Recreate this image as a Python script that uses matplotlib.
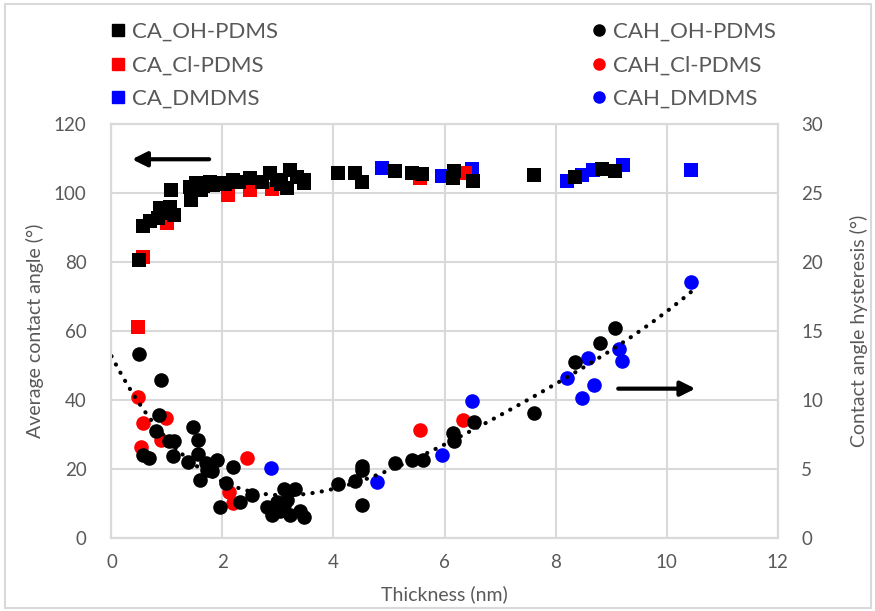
import matplotlib
matplotlib.use("Agg")
import matplotlib.pyplot as plt
from matplotlib.lines import Line2D
from matplotlib.patches import Rectangle
import numpy as np

plt.rcParams['font.family'] = ['Lato', 'DejaVu Sans']

# contact angle (left axis), x = thickness in nm
ca_oh_x = [0.49, 0.57, 0.69, 0.84, 0.87, 1.02, 1.05, 1.07, 1.12, 1.41, 1.44, 1.53, 1.62,
           1.65, 1.77, 1.83, 1.95, 2.05, 2.19, 2.30, 2.50, 2.71, 2.86, 2.98, 3.05, 3.16,
           3.22, 3.34, 3.46, 3.47, 4.09, 4.39, 4.51, 5.10, 5.41, 5.59, 6.17, 6.16, 6.52,
           7.62, 8.35, 8.83, 9.07]
ca_oh_y = [80.4, 90.4, 91.8, 92.6, 95.5, 94.0, 96.0, 100.8, 93.5, 101.7, 97.9, 102.7, 100.8,
           102.0, 103.2, 102.2, 102.7, 102.5, 103.7, 103.2, 104.2, 103.2, 105.6, 103.7, 102.5, 101.3,
           106.6, 104.6, 102.7, 103.6, 105.8, 105.8, 103.2, 106.3, 105.8, 105.4, 106.3, 104.2, 103.5,
           105.1, 104.6, 106.8, 106.3]
ca_cl_x = [0.47, 0.57, 1.00, 2.10, 2.50, 2.89, 5.56, 6.37]
ca_cl_y = [61.2, 81.4, 91.2, 99.2, 100.8, 101.2, 104.2, 105.8]
ca_dm_x = [4.87, 5.95, 6.49, 8.20, 8.47, 8.68, 9.21, 10.45]
ca_dm_y = [107.1, 104.8, 106.8, 103.5, 105.1, 106.6, 108.0, 106.6]

# contact angle hysteresis (right axis)
cah_oh_x = [0.50, 0.90, 0.86, 0.80, 1.04, 1.13, 0.57, 0.68, 1.10, 1.46, 1.55, 1.55, 1.38,
            1.70, 1.91, 1.59, 1.72, 1.82, 2.19, 2.07, 1.95, 2.32, 2.53, 2.80, 2.89, 3.04,
            3.16, 3.22, 3.40, 3.46, 3.10, 2.98, 3.10, 3.30, 4.09, 4.39, 4.52, 4.52, 4.51,
            5.10, 5.41, 5.61, 6.18, 6.16, 6.54, 7.61, 8.35, 8.81, 9.08]
cah_oh_y = [13.3, 11.4, 8.9, 7.7, 7.0, 7.0, 6.0, 5.75, 5.9, 8.0, 7.1, 6.1, 5.5,
            5.4, 5.6, 4.2, 4.9, 4.8, 5.1, 3.94, 2.25, 2.6, 3.1, 2.25, 1.65, 1.9,
            2.7, 1.65, 1.9, 1.5, 2.37, 2.6, 3.5, 3.5, 3.9, 4.1, 5.2, 4.9, 2.4,
            5.4, 5.6, 5.6, 7.0, 7.6, 8.4, 9.0, 12.7, 14.1, 15.2]
cah_cl_x = [0.47, 0.57, 0.98, 0.53, 0.89, 2.45, 2.12, 2.19, 3.00, 5.55, 6.33]
cah_cl_y = [10.2, 8.3, 8.7, 6.6, 7.1, 5.8, 3.33, 2.5, 2.3, 7.8, 8.5]
cah_dm_x = [2.87, 4.78, 5.95, 6.49, 8.21, 8.59, 9.15, 9.20, 8.70, 8.47, 10.45]
cah_dm_y = [5.07, 4.0, 6.0, 9.9, 11.6, 13.0, 13.7, 12.8, 11.1, 10.1, 18.5]

gray = '#595959'
grid = '#d9d9d9'

fig = plt.figure(figsize=(8.75, 6.11), dpi=100)
ax = fig.add_axes([0.1274, 0.120, 0.7612, 0.6775])
ax2 = ax.twinx()

ax.set_xlim(0, 12)
ax.set_ylim(0, 120)
ax2.set_ylim(0, 30)
ax.set_xticks(np.arange(0, 13, 2))
ax.set_yticks(np.arange(0, 121, 20))
ax2.set_yticks(np.arange(0, 31, 5))
ax.grid(True, color=grid, lw=1.5)
ax.set_axisbelow(True)
for a in (ax, ax2):
    for s in a.spines.values():
        s.set_color(grid)
        s.set_linewidth(1.5)
    a.tick_params(length=0, labelsize=13.5, labelcolor=gray)
ax.tick_params(axis='y', pad=18)
ax.tick_params(axis='x', pad=12)
ax2.tick_params(axis='y', pad=17)

sq = dict(marker='s', ms=9.5, ls='none', mew=0)
ci = dict(marker='o', ms=10.5, ls='none', mew=0)
ax.plot(ca_dm_x, ca_dm_y, color='#0000ff', **sq)
ax.plot(ca_cl_x, ca_cl_y, color='#ff0000', **sq)
ax.plot(ca_oh_x, ca_oh_y, color='black', **sq)
ax2.plot(cah_dm_x, cah_dm_y, color='#0000ff', **ci)
ax2.plot(cah_cl_x, cah_cl_y, color='#ff0000', **ci)
ax2.plot(cah_oh_x, cah_oh_y, color='black', **ci)

# polynomial trendline through all hysteresis points
all_x = np.array(cah_oh_x + cah_cl_x + cah_dm_x)
all_y = np.array(cah_oh_y + cah_cl_y + cah_dm_y)
coef = np.polyfit(all_x, all_y, 4)
xs = np.linspace(0, max(all_x), 200)
ax2.plot(xs, np.polyval(coef, xs), color='black', lw=3, ls=(0, (0.05, 2.2)),
         dash_capstyle='round')

ax.set_xlabel('Thickness (nm)', fontsize=14, color=gray, labelpad=10)
ax.set_ylabel('Average contact angle (°)', fontsize=14, color=gray, labelpad=7)
ax2.set_ylabel('Contact angle hysteresis (°)', fontsize=14, color=gray, labelpad=19)

ax.annotate('', xy=(0.32, 109.7), xytext=(1.81, 109.7),
            arrowprops=dict(arrowstyle='-|>', lw=3, color='black', mutation_scale=22))
ax2.annotate('', xy=(10.57, 10.8), xytext=(9.08, 10.8),
             arrowprops=dict(arrowstyle='-|>', lw=3, color='black', mutation_scale=22))

h1 = [Line2D([], [], color=c, marker='s', ls='none', ms=8) for c in ('black', '#ff0000', '#0000ff')]
h2 = [Line2D([], [], color=c, marker='o', ls='none', ms=8) for c in ('black', '#ff0000', '#0000ff')]
leg1 = fig.legend(h1, ['CA_OH-PDMS', 'CA_Cl-PDMS', 'CA_DMDMS'], loc='upper left',
                  bbox_to_anchor=(100 / 875, 1 - 11 / 611), frameon=False, fontsize=16,
                  handlelength=0.6, handletextpad=0.35, labelspacing=0.6, borderpad=0)
leg2 = fig.legend(h2, ['CAH_OH-PDMS', 'CAH_Cl-PDMS', 'CAH_DMDMS'], loc='upper left',
                  bbox_to_anchor=(581 / 875, 1 - 11 / 611), frameon=False, fontsize=16,
                  handlelength=0.6, handletextpad=0.35, labelspacing=0.6, borderpad=0)
for lg in (leg1, leg2):
    for t in lg.get_texts():
        t.set_color(gray)

fig.add_artist(Rectangle((5 / 875, 3 / 611), 866 / 875, 604 / 611, transform=fig.transFigure,
                         fill=False, edgecolor=grid, lw=1.5))

fig.savefig('out.png', dpi=100)
